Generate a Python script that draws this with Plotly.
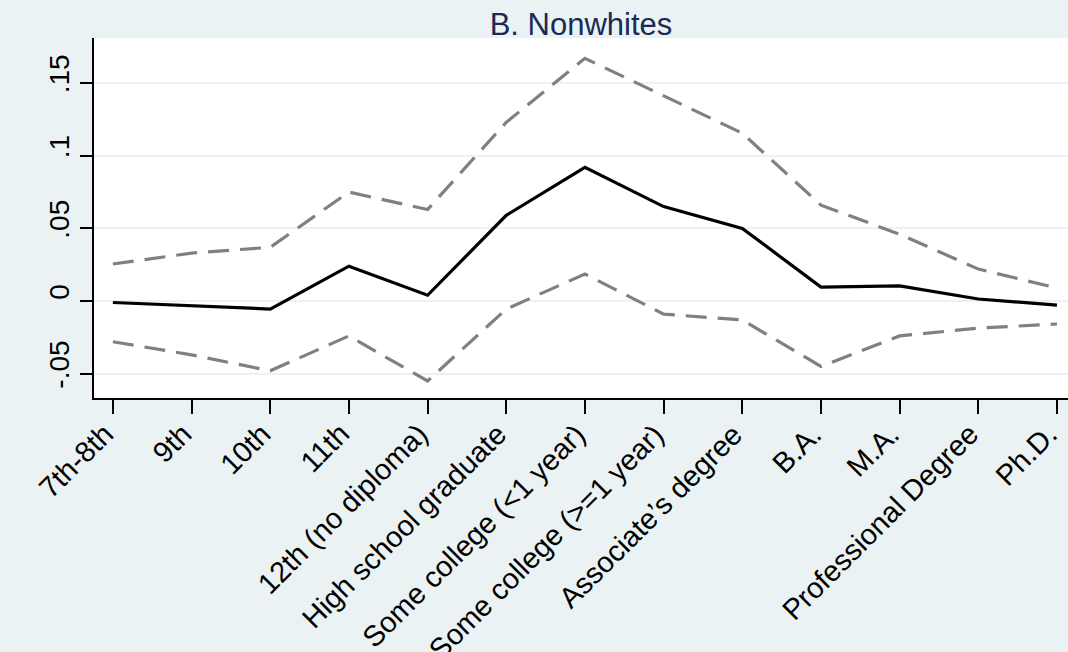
import plotly.graph_objects as go

categories = ["7th-8th", "9th", "10th", "11th", "12th (no diploma)", "High school graduate",
              "Some college (<1 year)", "Some college (>=1 year)", "Associate’s degree",
              "B.A.", "M.A.", "Professional Degree", "Ph.D."]
estimate = [-0.001, -0.003, -0.0055, 0.024, 0.004, 0.059, 0.092, 0.065, 0.050,
            0.0096, 0.0105, 0.0014, -0.0028]
upper_ci = [0.0255, 0.033, 0.037, 0.075, 0.063, 0.123, 0.167, 0.141, 0.1155,
            0.066, 0.046, 0.022, 0.009]
lower_ci = [-0.028, -0.037, -0.048, -0.024, -0.055, -0.0055, 0.0186, -0.009, -0.013,
            -0.045, -0.024, -0.0186, -0.0158]
ytick_vals = [-0.05, 0, 0.05, 0.1, 0.15]
ytick_text = ["-.05", "0", ".05", ".1", ".15"]

x = list(range(len(categories)))
font = "Arial, Liberation Sans, sans-serif"

fig = go.Figure()
for ci in (upper_ci, lower_ci):
    fig.add_trace(go.Scatter(x=x, y=ci, mode="lines",
                             line=dict(color="#808080", width=3.2, dash="21px,11px"),
                             showlegend=False))
fig.add_trace(go.Scatter(x=x, y=estimate, mode="lines",
                         line=dict(color="black", width=3.2), showlegend=False))
fig.add_hline(y=0, line=dict(color="#C0143C", width=1.5), layer="below")

# Slanted category labels, anchored at their upper-right corner below each tick
for xi, label in zip(x, categories):
    fig.add_annotation(x=xi, y=0, xref="x", yref="paper", text=label, showarrow=False,
                       textangle=-45, xanchor="right", yanchor="top",
                       xshift=9, yshift=-17, font=dict(size=29, family=font, color="black"))

fig.update_layout(
    width=1068, height=652,
    margin=dict(l=94, r=0, t=38, b=254),
    paper_bgcolor="#EAF2F3", plot_bgcolor="white",
    font=dict(family=font, color="black"),
    title=dict(text="B. Nonwhites", x=0.544, xanchor="center", y=0.963, yanchor="middle",
               font=dict(size=31, color="#1A2A57", family=font)),
    xaxis=dict(range=[-0.24, 12.14], tickvals=x, showticklabels=False,
               showgrid=False, zeroline=False, showline=True, linecolor="black", linewidth=1.5,
               ticks="outside", ticklen=14, tickwidth=1.5, tickcolor="black"),
    yaxis=dict(range=[-0.0667, 0.181], tickvals=ytick_vals, ticktext=ytick_text, tickangle=-90,
               showgrid=True, gridcolor="#EAF2F3", gridwidth=1.5, zeroline=False,
               showline=True, linecolor="black", linewidth=1.5,
               ticks="outside", ticklen=12, tickwidth=1.5, tickcolor="black",
               tickfont=dict(size=28), ticklabelshift=-5, automargin=False),
)

fig.write_html("out.html")
